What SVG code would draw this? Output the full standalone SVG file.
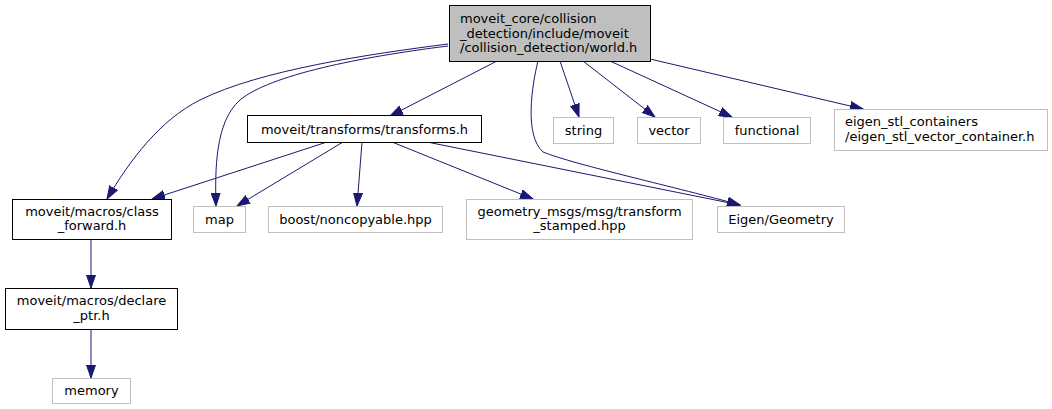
<svg xmlns="http://www.w3.org/2000/svg" width="1052" height="409" viewBox="0 0 1052 409">
<style>
text{font-family:"DejaVu Sans",sans-serif;font-size:13px;fill:#000}
.c{text-anchor:middle}
.l{text-anchor:start}
.b rect{fill:#fff;stroke:#000;stroke-width:1}
.g rect{fill:#fff;stroke:#bfbfbf;stroke-width:1}
.m rect{fill:#bfbfbf;stroke:#000;stroke-width:1}
#edges path{fill:none;stroke:#191970;stroke-width:1;marker-end:url(#ah)}
</style>
<defs>
<marker id="ah" markerUnits="userSpaceOnUse" markerWidth="14" markerHeight="10" viewBox="0 -5 14 10" refX="13" refY="0" orient="auto">
<path d="M0,-4.5 L13,0 L0,4.5 z" fill="#191970" stroke="#191970" stroke-width="1"/>
</marker>
</defs>
<rect width="1052" height="409" fill="#fff"/>
<g id="edges">
<path d="M448,44 C370,54 260,70 200,100 C160,120 130,160 107,199"/>
<path d="M448,46 C360,57 270,75 240,100 C215,122 215,170 216,206"/>
<path d="M497,61 L390,116"/>
<path d="M538,61 C532,85 524,135 543,152 C575,165 680,188 740,205"/>
<path d="M560,61 L579,117"/>
<path d="M583,61 L655,117"/>
<path d="M610,61 L732,117"/>
<path d="M650,59 L863,109"/>
<path d="M327,142 L152,199"/>
<path d="M343,142 L237,206"/>
<path d="M362,142 L357,206"/>
<path d="M392,142 L533,199"/>
<path d="M427,142 L740,205"/>
<path d="M91,239 L91,288"/>
<path d="M91,329 L91,378"/>
</g>
<g id="world" class="m">
<rect x="449.5" y="5.5" width="201" height="56"/>
<text class="l" x="460" y="23">moveit_core/collision</text>
<text class="l" x="460" y="37.5">_detection/include/moveit</text>
<text class="l" x="460" y="52">/collision_detection/world.h</text>
</g>
<g id="transforms" class="b">
<rect x="247.5" y="115.5" width="234" height="27"/>
<text class="c" x="364.5" y="133.5">moveit/transforms/transforms.h</text>
</g>
<g id="class_forward" class="b">
<rect x="12.5" y="199.5" width="159" height="40"/>
<text class="c" x="92" y="215.5">moveit/macros/class</text>
<text class="c" x="92" y="230">_forward.h</text>
</g>
<g id="map" class="g">
<rect x="193.5" y="206.5" width="52" height="26"/>
<text class="c" x="219.5" y="223.5">map</text>
</g>
<g id="boost" class="g">
<rect x="268.5" y="206.5" width="174" height="26"/>
<text class="c" x="355.5" y="223.5">boost/noncopyable.hpp</text>
</g>
<g id="geometry_msgs" class="g">
<rect x="466.5" y="199.5" width="226" height="40"/>
<text class="c" x="579.5" y="215.5">geometry_msgs/msg/transform</text>
<text class="c" x="579.5" y="230">_stamped.hpp</text>
</g>
<g id="eigen_geometry" class="g">
<rect x="717.5" y="206.5" width="127" height="26"/>
<text class="c" x="781" y="223.5">Eigen/Geometry</text>
</g>
<g id="string" class="g">
<rect x="553.5" y="117.5" width="60" height="26"/>
<text class="c" x="583.5" y="134.5">string</text>
</g>
<g id="vector" class="g">
<rect x="637.5" y="117.5" width="63" height="26"/>
<text class="c" x="669" y="134.5">vector</text>
</g>
<g id="functional" class="g">
<rect x="723.5" y="117.5" width="87" height="26"/>
<text class="c" x="767" y="134.5">functional</text>
</g>
<g id="eigen_stl" class="g">
<rect x="834.5" y="109.5" width="213" height="41"/>
<text class="l" x="845" y="126">eigen_stl_containers</text>
<text class="l" x="845" y="140.5">/eigen_stl_vector_container.h</text>
</g>
<g id="declare_ptr" class="b">
<rect x="5.5" y="288.5" width="172" height="41"/>
<text class="c" x="91.5" y="305">moveit/macros/declare</text>
<text class="c" x="91.5" y="319.5">_ptr.h</text>
</g>
<g id="memory" class="g">
<rect x="52.5" y="378.5" width="78" height="25"/>
<text class="c" x="91.5" y="395">memory</text>
</g>
</svg>
